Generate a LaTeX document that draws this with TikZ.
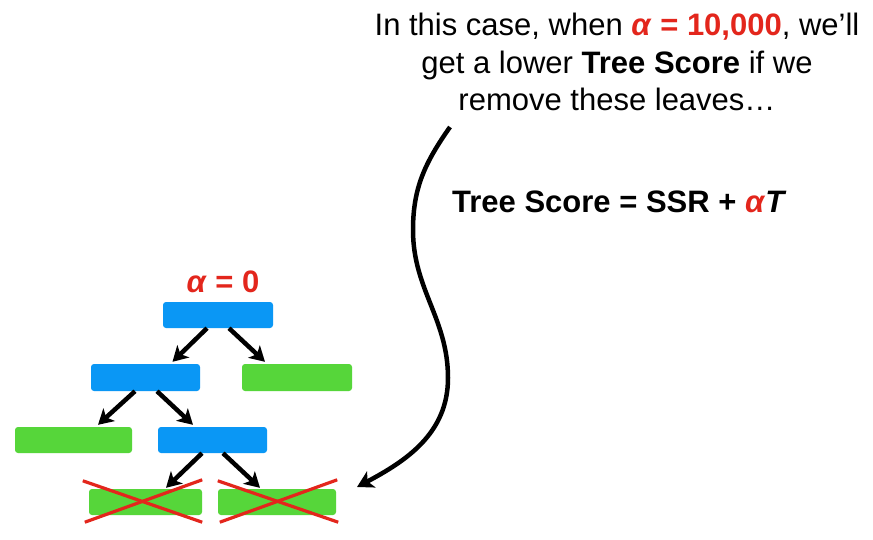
\documentclass[tikz,border=0pt]{standalone}
\usepackage{fontspec}
\setmainfont{Liberation Sans}
\usetikzlibrary{arrows.meta,calc}
\definecolor{nodeblue}{HTML}{0A97F5}
\definecolor{leafgreen}{HTML}{56D63A}
\definecolor{alphared}{HTML}{E3261C}
\begin{document}
\begin{tikzpicture}[x=1pt,y=1pt,
  box/.style={rectangle, rounded corners=3pt, minimum height=26pt, inner sep=0pt},
  innernode/.style={box, fill=nodeblue},
  leafnode/.style={box, fill=leafgreen},
  treearrow/.style={line width=4.5pt, -{Stealth[length=15pt,width=17pt,inset=4pt]}},
  bigarrow/.style={line width=4.5pt, -{Stealth[length=16pt,width=18pt,inset=4pt]}},
  cross/.style={alphared, line width=3.2pt},
  txt/.style={font=\fontsize{31}{37.5}\selectfont, inner sep=0pt}]
\useasboundingbox (0,0) rectangle (873,-539);
\fill[white] (0,0) rectangle (873,-539);

% tree
\node[innernode, minimum width=110pt] (r)  at (218,-315) {};
\node[innernode, minimum width=109pt, minimum height=27pt] (b1) at (145.5,-377.5) {};
\node[leafnode,  minimum width=110pt, minimum height=27pt] (g1) at (297,-377.5) {};
\node[leafnode,  minimum width=117pt] (g2) at (73.5,-440) {};
\node[innernode, minimum width=109pt] (b2) at (212.5,-440) {};
\node[leafnode,  minimum width=113pt] (g3) at (145.5,-502) {};
\node[leafnode,  minimum width=118pt] (g4) at (277,-502) {};

\draw[treearrow] ($(r.south)+(-11,0)$) -- ($(b1.north)+(27,2)$);
\draw[treearrow] ($(r.south)+(11,0)$) -- ($(g1.north)+(-32,2)$);
\draw[treearrow] ($(b1.south)+(-10.5,0)$) -- ($(g2.north)+(24.5,2)$);
\draw[treearrow] ($(b1.south)+(11.5,0)$) -- ($(b2.north)+(-19.5,2)$);
\draw[treearrow] ($(b2.south)+(-10.5,0)$) -- ($(g3.north)+(20.5,1)$);
\draw[treearrow] ($(b2.south)+(10.5,0)$) -- ($(g4.north)+(-17,1)$);

% crosses
\draw[cross] ($(g3.north west)+(-6,8)$) -- ($(g3.south east)+(0,-7)$);
\draw[cross] ($(g3.south west)+(-4,-7)$) -- ($(g3.north east)+(0,9)$);
\draw[cross] ($(g4.north west)+(0,8)$) -- ($(g4.south east)+(2,-7)$);
\draw[cross] ($(g4.south west)+(2,-7)$) -- ($(g4.north east)+(1,9)$);

\node[txt, anchor=base, text=alphared] (alab) at (223,-292) {\textbf{\textit{α} = 0}};

% texts
\node[txt, align=center, anchor=north] (note) at (617,-13)
  {In this case, when \textcolor{alphared}{\textbf{\textit{α} = 10,000}}, we’ll\\
   get a lower \textbf{Tree Score} if we\\
   remove these leaves…};
\node[txt, anchor=base west] (formula) at (452,-212)
  {\textbf{Tree Score = SSR + \textcolor{alphared}{\textit{α}}\textit{T}}};

% curved arrow
\coordinate (cs) at (450,-127);
\coordinate (ce) at (357,-487);
\draw[bigarrow] (cs) to[out=235,in=90] (413,-230) to[out=270,in=90] (448,-378) to[out=270,in=28] (ce);
\end{tikzpicture}
\end{document}
